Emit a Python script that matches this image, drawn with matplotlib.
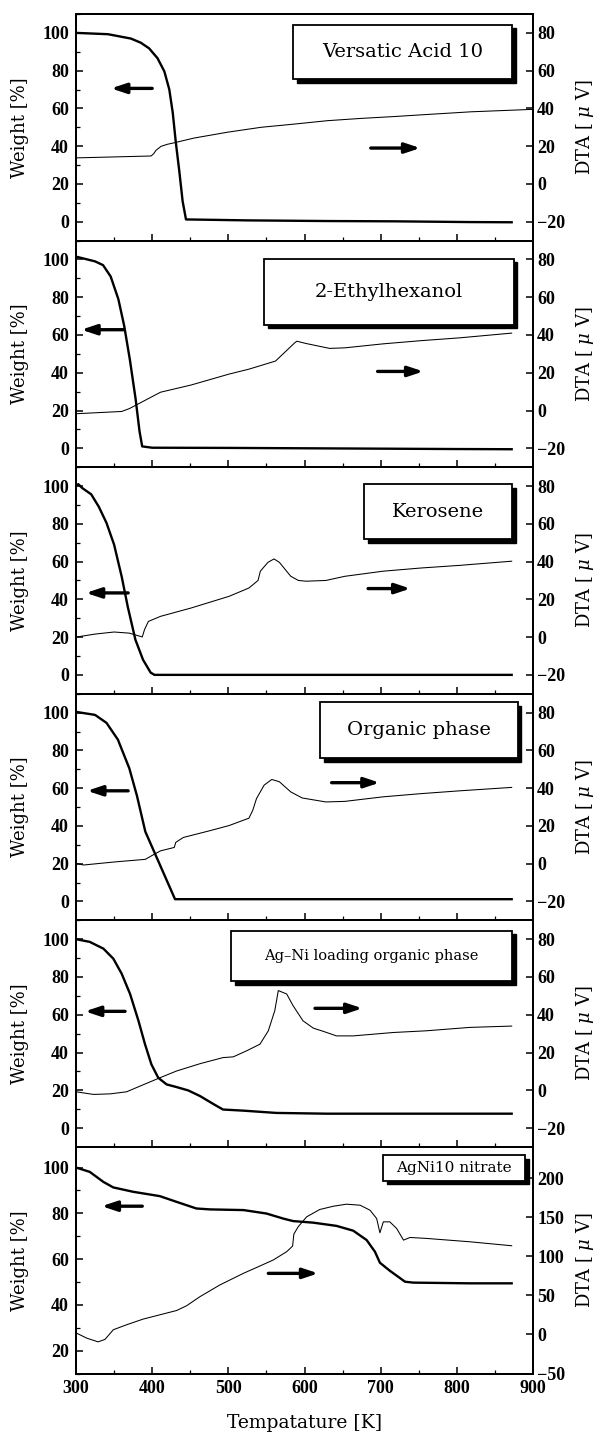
import matplotlib
matplotlib.use("Agg")
import matplotlib.pyplot as plt
from matplotlib.patches import Rectangle
from matplotlib.transforms import ScaledTranslation
from matplotlib.ticker import MultipleLocator

plt.rcParams['font.family'] = ['DejaVu Serif']
plt.rcParams['mathtext.fontset'] = 'dejavuserif'

# --- data (temperature in K, weight in %, DTA in uV) ---
# Versatic Acid 10
p1_tg_K = [300, 342, 355, 372, 385, 396, 407, 416, 422.5, 427, 431, 435.7, 440, 444.4, 477, 525, 630, 718, 818, 872]
p1_tg_w = [100, 99.3, 98.3, 97, 94.8, 91.8, 86.6, 79.6, 70, 57.8, 42.2, 26.5, 10.8, 1.2, 1.0, 0.7, 0.35, 0.2, -0.2, -0.3]
p1_dta_K = [300, 398.5, 402, 405, 411.6, 420, 429, 455, 499, 543, 586.6, 630, 674, 718, 761.6, 818.5, 900]
p1_dta_v = [13.8, 14.8, 16.0, 17.8, 19.9, 21.0, 21.8, 24.3, 27.4, 30, 31.7, 33.5, 34.7, 35.7, 36.8, 38.2, 39.5]

# 2-Ethylhexanol
p2_tg_K = [300, 325, 335.5, 345.5, 355.6, 363.2, 370.7, 378.3, 383.4, 386.9, 400, 500, 600, 700, 800, 872]
p2_tg_w = [101.5, 99, 97, 91, 79, 65, 47, 26, 9, 1, 0.3, 0.2, 0, -0.2, -0.4, -0.5]
p2_dta_K = [300, 360, 370, 386, 411, 451, 501, 527, 562, 587, 590, 602, 633, 653, 703, 753, 804, 872]
p2_dta_v = [-1.7, -0.5, 1, 4.4, 9.7, 13.5, 19.3, 21.9, 26.2, 35.8, 36.7, 35.5, 32.9, 33.2, 35.3, 37, 38.5, 41]

# Kerosene
p3_tg_K = [300, 303, 308, 320, 330, 340, 350, 360, 368, 378, 388, 398, 403, 500, 872]
p3_tg_w = [100, 101, 99, 95.6, 89, 80.5, 69, 52, 36, 18.6, 8, 1.2, 0, 0, 0]
p3_dta_K = [300, 325, 350, 370, 380, 387, 390, 395, 411, 451, 501, 527, 539, 542, 552, 560, 567, 582, 592, 602, 628, 653, 703, 753, 804, 872]
p3_dta_v = [0, 1.6, 2.7, 2.1, 0.9, 0.1, 4, 8.3, 11, 15.4, 21.6, 26, 30, 34.9, 39.6, 41.4, 39.6, 32.2, 30, 29.6, 30, 32.2, 34.9, 36.6, 38, 40.2]

# Organic phase
p4_tg_K = [300, 325, 340, 355, 370, 380, 391, 430, 872]
p4_tg_w = [100.4, 98.8, 94.6, 85.7, 70.5, 56, 37, 1.2, 1.2]
p4_dta_K = [300, 310, 350, 391, 401, 411, 429, 431, 441, 476, 501, 527, 532, 537, 547, 557, 567, 582, 597, 628, 653, 703, 753, 804, 872]
p4_dta_v = [0.2, -0.7, 0.9, 2.3, 4.6, 6.8, 8.6, 11.3, 13.9, 17.5, 20.2, 24.1, 28.2, 34.5, 41.6, 44.6, 43.4, 38, 34.8, 32.7, 33, 35.4, 37.1, 38.6, 40.4]

# Ag-Ni loading organic phase
p5_tg_K = [300, 318, 336, 349, 360, 371, 382, 390.6, 399, 408, 419, 432, 447.5, 463, 480, 493, 520, 563, 629, 872]
p5_tg_w = [100, 98.6, 95, 89.7, 81.7, 71, 56.8, 44.4, 33.7, 26.6, 23.1, 21.7, 19.9, 16.9, 12.8, 9.8, 9.2, 8, 7.6, 7.6]
p5_dta_K = [300, 323, 345, 366.5, 384, 410, 432, 463, 493, 506.5, 524, 541.5, 552.5, 561, 565.6, 576.6, 585, 598, 611.6, 624.7, 642, 664, 716.6, 760, 817, 872]
p5_dta_v = [-0.8, -2.2, -1.9, -0.8, 2.2, 6.6, 10.2, 14.1, 17.3, 17.7, 20.9, 24.4, 31.5, 42.2, 52.8, 51, 44.8, 36.8, 32.9, 31.2, 28.8, 28.8, 30.6, 31.5, 33.3, 34]

# AgNi10 nitrate
p6_tg_K = [300, 318, 336, 349, 375, 410, 432, 458, 476, 520, 550, 572, 585, 611.6, 642, 664, 681.6, 692.5, 699, 712, 732, 743, 817, 872]
p6_tg_w = [100, 98.1, 93.7, 91.3, 89.4, 87.5, 85, 82.1, 81.7, 81.4, 79.9, 77.7, 76.6, 75.9, 74.5, 72.4, 68.3, 63.2, 58.4, 54.9, 50.1, 49.7, 49.4, 49.4]
p6_dta_K = [300, 314, 329, 338, 349, 366.5, 388, 410, 432, 445, 463, 489, 520, 541.5, 559, 576.6, 584.4, 586, 591.7, 602.8, 620, 638, 655, 673, 686, 694.7, 699, 703.5, 712, 721, 730, 738.5, 760, 817, 872]
p6_dta_v = [2, -4.7, -9.5, -6.4, 6, 12.4, 19.6, 25.1, 30.6, 36.6, 48.5, 63.4, 78.3, 87.6, 95.3, 105.9, 113.1, 128.4, 137.8, 150.5, 159.9, 164.1, 166.7, 165.4, 159, 148.4, 130.1, 144.1, 144.1, 135.6, 120.7, 124.1, 122.9, 118.6, 113.5]

titles = ["Versatic Acid 10", "2-Ethylhexanol", "Kerosene", "Organic phase",
          "Ag\u2013Ni loading organic phase", "AgNi10 nitrate"]
x_ticks = [300, 400, 500, 600, 700, 800, 900]

panels = [
    (p1_tg_K, p1_tg_w, p1_dta_K, p1_dta_v),
    (p2_tg_K, p2_tg_w, p2_dta_K, p2_dta_v),
    (p3_tg_K, p3_tg_w, p3_dta_K, p3_dta_v),
    (p4_tg_K, p4_tg_w, p4_dta_K, p4_dta_v),
    (p5_tg_K, p5_tg_w, p5_dta_K, p5_dta_v),
    (p6_tg_K, p6_tg_w, p6_dta_K, p6_dta_v),
]

# --- layout: axis ranges, label boxes and arrows (K, weight) ---
w_lim = [(-10, 110)] * 5 + [(10, 109)]
d_lim = [(-30, 90)] * 5 + [(-50, 240)]
w_ticks = [[0, 20, 40, 60, 80, 100]] * 5 + [[20, 40, 60, 80, 100]]
d_ticks = [[-20, 0, 20, 40, 60, 80]] * 5 + [[-50, 0, 50, 100, 150, 200]]
boxes = [(585, 872.5, 75.4, 104.4, 14), (547, 875, 65.4, 100.3, 14),
         (678.5, 872.5, 71.7, 100.9, 14), (620.5, 880, 75.9, 105.4, 14),
         (504, 872.5, 77.8, 104.4, 10.5), (703.5, 889.5, 94.2, 105.4, 11)]
left_arrows = [(400, 346, 70.6), (362.5, 307, 62.8), (368.5, 313, 43.4),
               (368.5, 314.6, 58.6), (364.4, 311.8, 61.8), (387, 333.7, 83.1)]
right_arrows = [(687, 752, 39), (696, 756, 40.7), (683.5, 739, 45.7),
                (635.6, 698.6, 62.9), (613.8, 676, 63.4), (552.5, 618, 53.75)]

fig = plt.figure(figsize=(6, 14.32), dpi=100)
axes = fig.subplots(6, 1, sharex=True)
fig.subplots_adjust(left=76/600, right=533/600, top=1-14/1432, bottom=1-1373.5/1432, hspace=0)

tick_font = dict(family='Liberation Serif', weight='bold', size=13)

def fmt(v):
    return str(v).replace('-', '\u2212')

for i, ax in enumerate(axes):
    tgK, tgw, dK, dv = panels[i]
    ax2 = ax.twinx()
    ax.plot(tgK, tgw, color='k', lw=1.7, solid_joinstyle='round')
    ax2.plot(dK, dv, color='k', lw=0.75)

    ax.set_xlim(300, 900)
    ax.set_ylim(*w_lim[i])
    ax2.set_ylim(*d_lim[i])

    ax.set_yticks(w_ticks[i])
    ax.set_yticklabels([fmt(v) for v in w_ticks[i]], fontdict=tick_font)
    ax2.set_yticks(d_ticks[i])
    ax2.set_yticklabels([fmt(v) for v in d_ticks[i]], fontdict=tick_font)
    ax.yaxis.set_minor_locator(MultipleLocator(10))
    ax.xaxis.set_minor_locator(MultipleLocator(50))

    ax.tick_params(axis='both', which='major', direction='in', length=5, width=1.1, pad=5, top=False, right=False)
    ax.tick_params(axis='both', which='minor', direction='in', length=3, width=0.9, top=False, right=False)
    ax2.tick_params(axis='y', which='major', direction='in', length=5, width=1.1, pad=3)

    for sp in ax.spines.values():
        sp.set_linewidth(1.4)
    for sp in ax2.spines.values():
        sp.set_linewidth(1.4)

    ax.set_ylabel('Weight [%]', fontsize=13)
    ax.yaxis.set_label_coords(-0.103, 0.5)
    ax2.set_ylabel('DTA [ $\\mu$ V]', fontsize=13, rotation=90)
    ax2.yaxis.set_label_coords(1.09, 0.5)

    # caption box with drop shadow
    x0, x1, y0, y1, fs = boxes[i]
    shadow = ScaledTranslation(0.035, -0.035, fig.dpi_scale_trans)
    ax.add_patch(Rectangle((x0, y0), x1 - x0, y1 - y0, transform=ax.transData + shadow,
                           facecolor='k', edgecolor='k', lw=1.0, zorder=5))
    ax.add_patch(Rectangle((x0, y0), x1 - x0, y1 - y0, facecolor='white',
                           edgecolor='k', lw=1.3, zorder=6))
    ax.text((x0 + x1) / 2, (y0 + y1) / 2, titles[i], ha='center', va='center',
            fontsize=fs, zorder=7)

    # direction arrows
    for tail, head, y in (left_arrows[i], right_arrows[i]):
        ax.annotate('', xy=(head, y), xytext=(tail, y),
                    arrowprops=dict(arrowstyle='-|>,head_length=0.9,head_width=0.3',
                                    color='k', lw=2.4, shrinkA=0, shrinkB=0))

axes[-1].set_xticks(x_ticks)
axes[-1].set_xticklabels([str(v) for v in x_ticks], fontdict=tick_font)
axes[-1].set_xlabel('Tempatature [K]', fontsize=13.5)
axes[-1].xaxis.set_label_coords(0.5, -0.18)

fig.savefig('out.png', dpi=100)
